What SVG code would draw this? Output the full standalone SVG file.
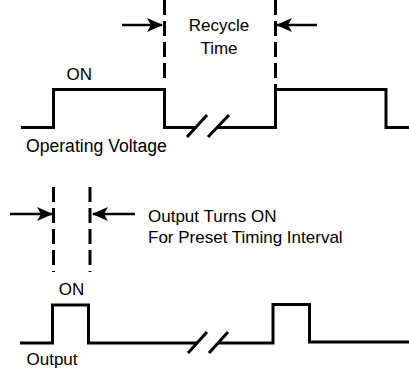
<svg xmlns="http://www.w3.org/2000/svg" width="409" height="369" viewBox="0 0 409 369">
<style>
.wave{fill:none;stroke:#000;stroke-width:3;stroke-linejoin:miter;stroke-linecap:butt}
.dash{fill:none;stroke:#000;stroke-width:3;stroke-dasharray:15 6}
.arrow{fill:none;stroke:#000;stroke-width:2.5;marker-end:url(#ah)}
.brk{fill:none;stroke:#000;stroke-width:3}
text{font-family:"Liberation Sans",Arial,Helvetica,sans-serif;font-size:17px;fill:#000}
</style>
<defs>
<marker id="ah" viewBox="0 0 16 16" refX="15" refY="8" markerWidth="16" markerHeight="16" markerUnits="userSpaceOnUse" orient="auto">
<path d="M0,1 L16,8 L0,15 L4,8 Z" fill="#000"/>
</marker>
</defs>
<rect width="409" height="369" fill="#fff"/>
<g id="top-timing">
<path class="wave" d="M21,127.5 H53.5 V89.5 H164.5 V127.5 H197"/>
<path class="wave" d="M218,127.5 H275.5 V89.5 H386 V127.5 H409"/>
<path class="brk" d="M187,137 L207,115 M208,137 L229,115"/>
<path class="dash" d="M164.5,0 V80"/>
<path class="dash" d="M275.5,0 V88"/>
<path class="arrow" d="M122,25 H162"/>
<path class="arrow" d="M317,25 H277"/>
<text x="219" y="30.5" text-anchor="middle">Recycle</text>
<text x="219" y="54" text-anchor="middle">Time</text>
<text x="66.5" y="80">ON</text>
<text x="26" y="152" style="font-size:17.6px">Operating Voltage</text>
</g>
<g id="bottom-timing">
<path class="wave" d="M20,343 H52.5 V305 H88.5 V343 H197"/>
<path class="wave" d="M218,343 H273 V304.5 H309.5 V342 H409"/>
<path class="brk" d="M188,353 L207,332 M209,353 L228,332"/>
<path class="dash" d="M53.5,187 V272"/>
<path class="dash" d="M90,187 V272"/>
<path class="arrow" d="M10,214 H52"/>
<path class="arrow" d="M135,214 H93"/>
<text x="148" y="222">Output Turns ON</text>
<text x="148" y="243">For Preset Timing Interval</text>
<text x="71.5" y="295" text-anchor="middle">ON</text>
<text x="26.5" y="364.5">Output</text>
</g>
</svg>
